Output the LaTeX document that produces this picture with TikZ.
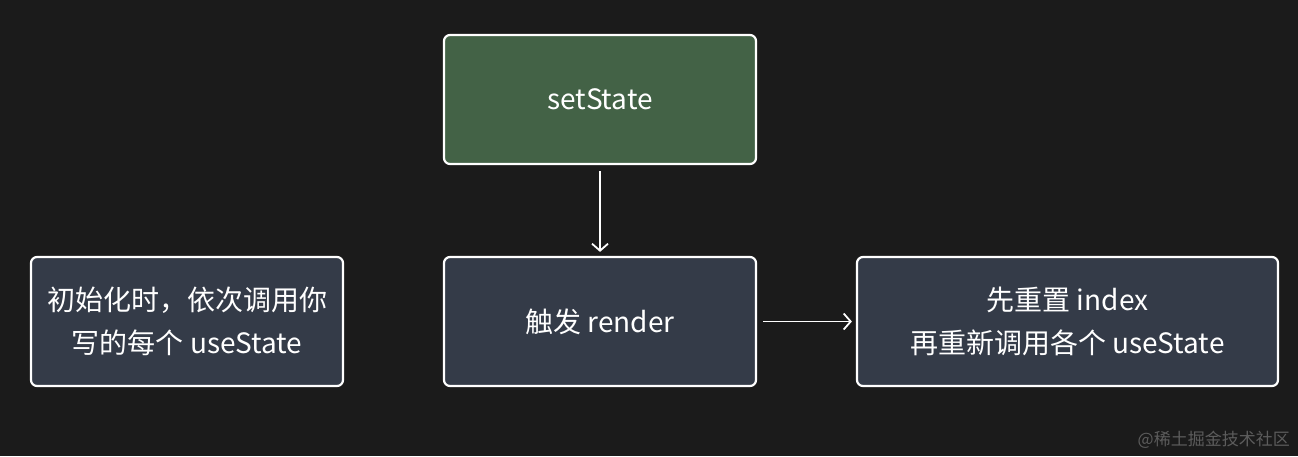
\documentclass[tikz,border=0pt]{standalone}
\usepackage{fontspec}
\setmainfont{Noto Sans CJK SC}
\usetikzlibrary{arrows.meta}
\definecolor{bgc}{HTML}{1B1B1B}
\definecolor{greenc}{HTML}{436246}
\definecolor{slatec}{HTML}{343B48}
\definecolor{wmc}{HTML}{5C5C5C}
\tikzset{
  box/.style={draw=white, line width=2.2pt, rounded corners=6pt, text=white,
    font=\fontsize{28}{43}\selectfont, align=center, inner sep=0pt},
  conn/.style={draw=white, line width=1.8pt, -{Straight Barb[length=7pt,width=16pt,line width=1.8pt]}}
}
\begin{document}
\begin{tikzpicture}[x=1pt,y=-1pt]
\fill[bgc] (0,0) rectangle (1298,456);
\useasboundingbox (0,0) rectangle (1298,456);
\node[box, fill=greenc, minimum width=312pt, minimum height=129pt] (set) at (600,99.5) {setState};
\node[box, fill=slatec, minimum width=312pt, minimum height=129pt] (init) at (187,321.5) {初始化时，依次调用你\\写的每个 useState};
\node[box, fill=slatec, minimum width=312pt, minimum height=129pt] (render) at (600,321.5) {触发 render};
\node[box, fill=slatec, minimum width=421pt, minimum height=129pt] (reset) at (1067.5,321.5) {先重置 index\\再重新调用各个 useState};
\draw[conn] ([yshift=-6pt]set.south) -- ([yshift=4pt]render.north);
\draw[conn] ([xshift=6pt]render.east) -- ([xshift=-4pt]reset.west);
\node[text=wmc, font=\fontsize{17}{20}\selectfont, anchor=east, inner sep=0pt] (wm) at (1290,440) {@稀土掘金技术社区};
\end{tikzpicture}
\end{document}
